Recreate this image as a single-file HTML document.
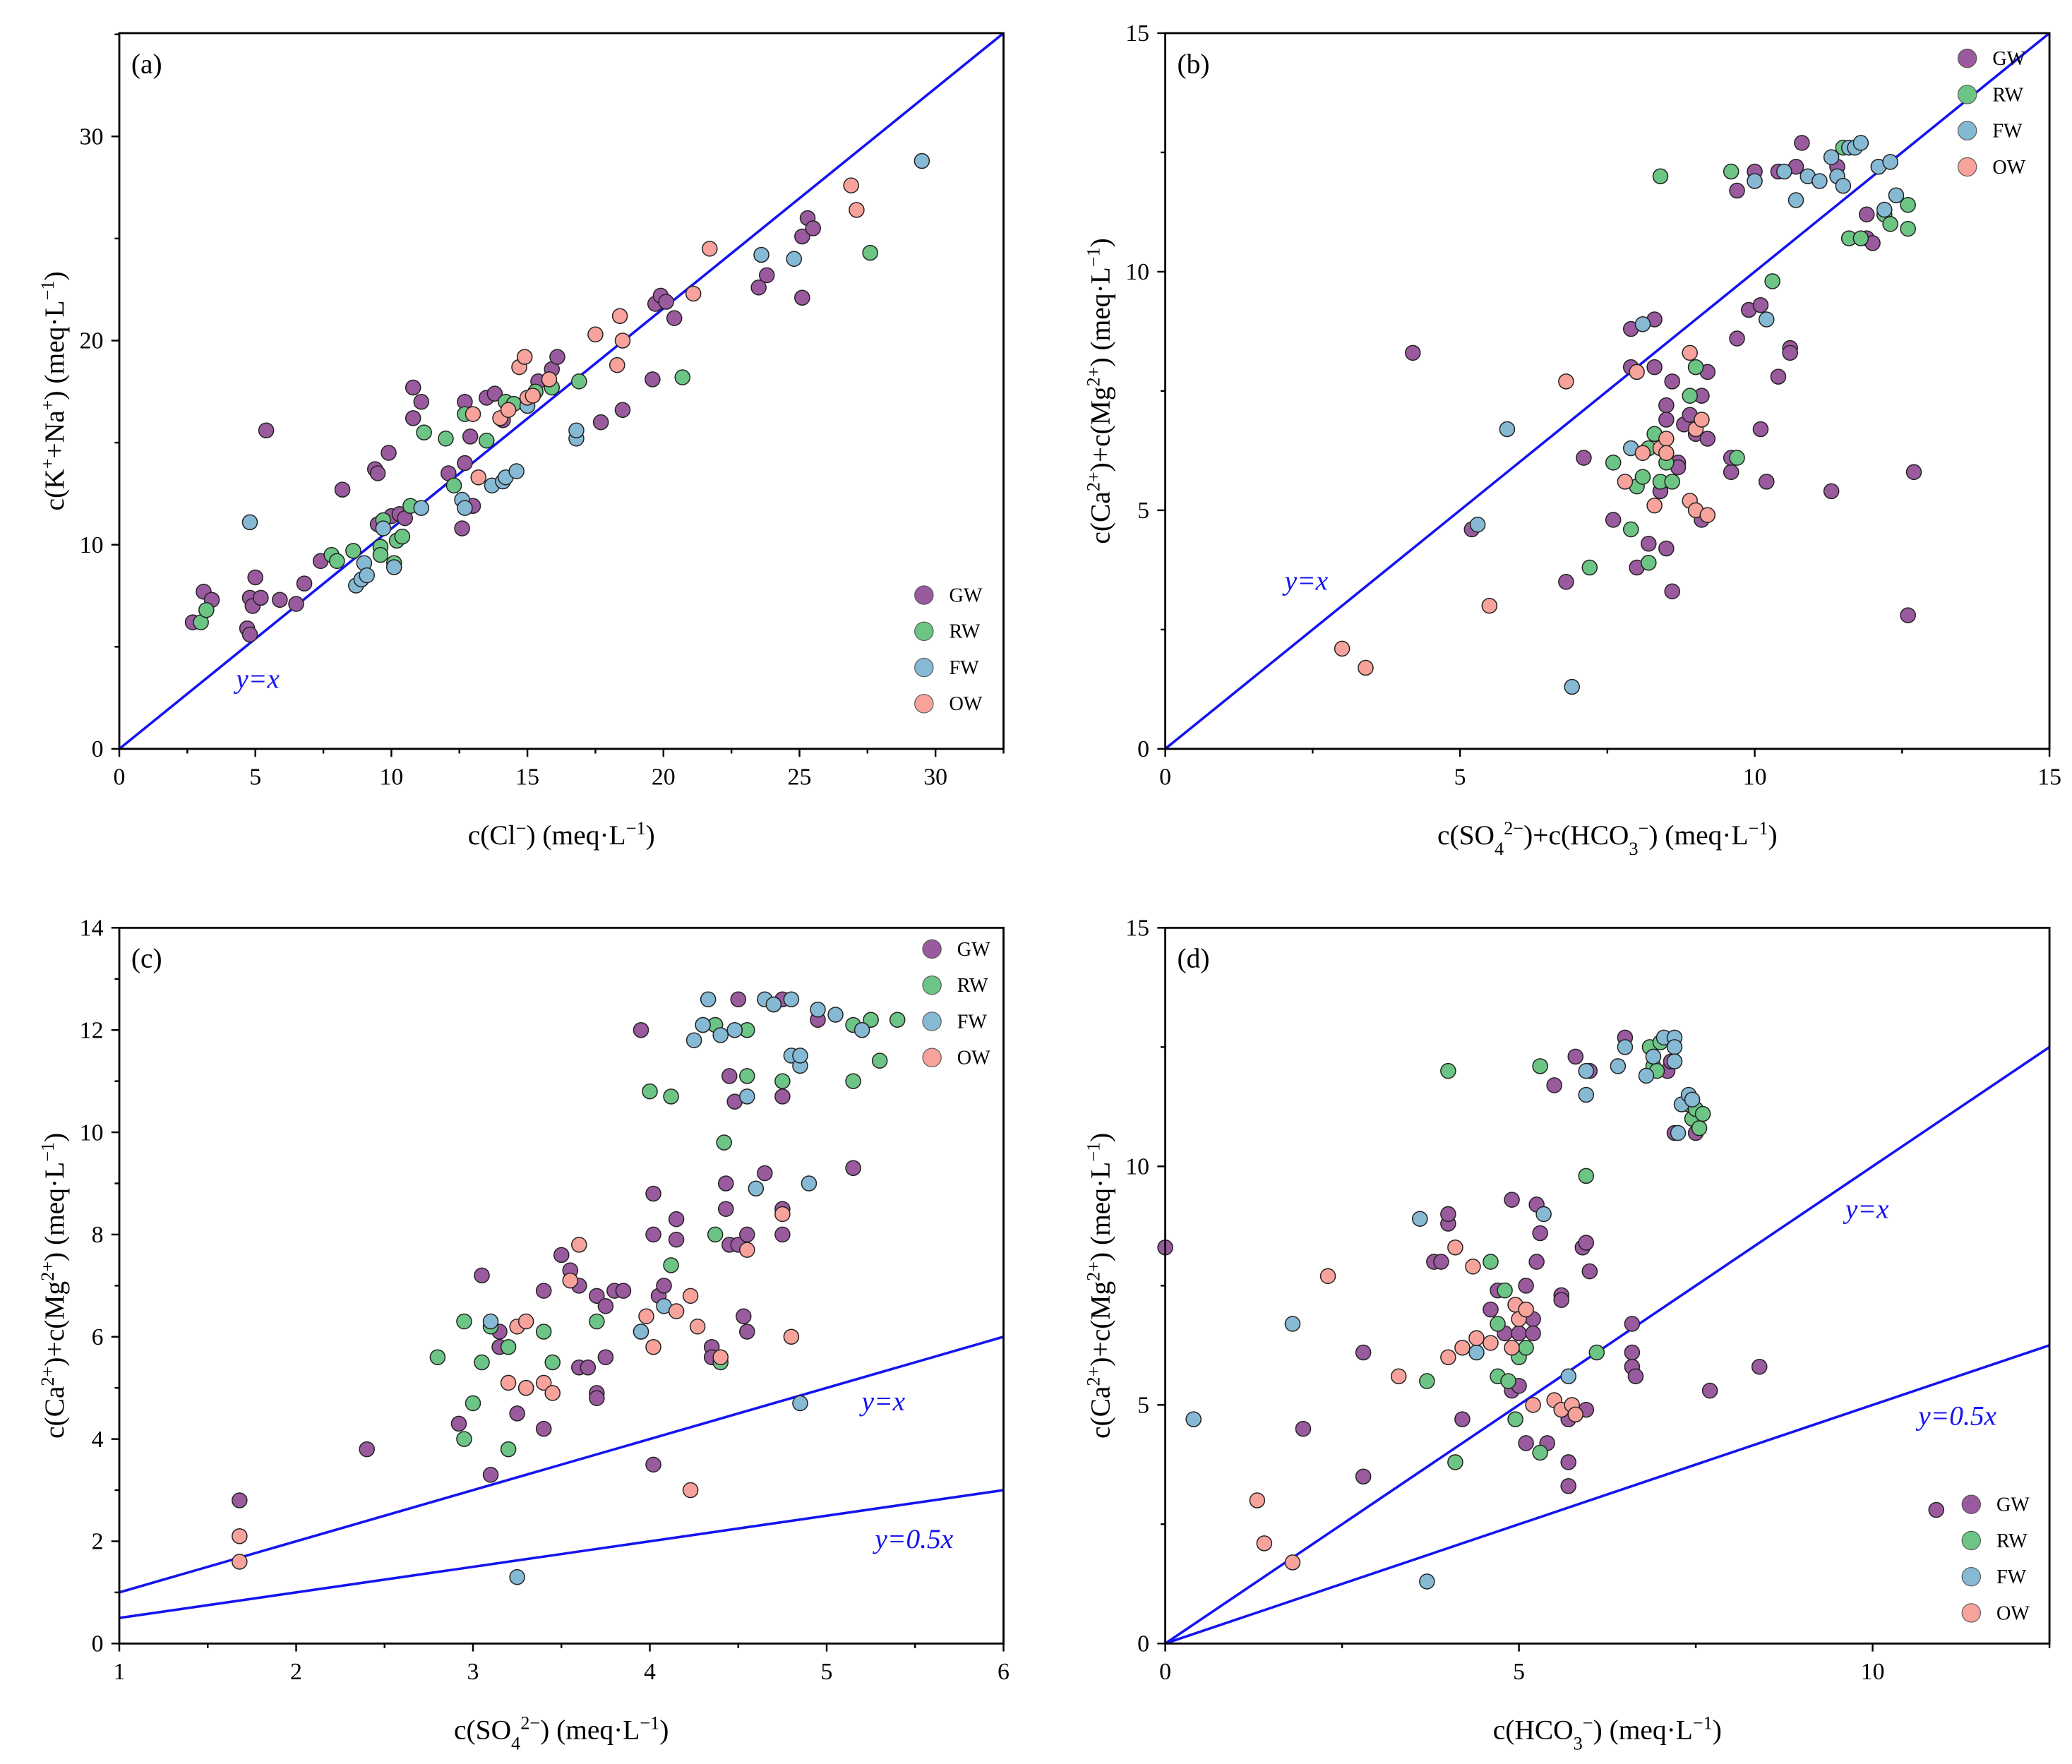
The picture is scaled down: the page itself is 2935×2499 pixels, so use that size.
<!DOCTYPE html>
<html><head><meta charset="utf-8"><style>
html,body{margin:0;padding:0;background:#fff;}
svg{display:block;}
text{font-family:"Liberation Serif",serif;fill:#000;}
</style></head><body>
<svg id="chart" width="2935" height="2499" viewBox="0 0 1563 1330.9" preserveAspectRatio="none" xmlns="http://www.w3.org/2000/svg"></svg>
<script>
// ---- Panel (a) data: c(Cl-) vs c(K+ + Na+) ----
const aGW=[[2.7,6.2],[3.1,7.7],[3.4,7.3],[4.7,5.9],[4.8,7.4],[4.8,5.6],[4.9,7.0],[5.0,8.4],[5.2,7.4],[5.4,15.6],[5.9,7.3],[6.5,7.1],[6.8,8.1],[7.4,9.2],[8.2,12.7],[9.4,13.7],[9.5,13.5],[9.9,14.5],[9.5,11.0],[10.0,11.4],[10.3,11.5],[10.5,11.3],[10.8,17.7],[10.8,16.2],[11.1,17.0],[12.1,13.5],[12.6,10.8],[12.7,14.0],[12.7,17.0],[12.9,15.3],[13.0,11.9],[13.5,17.2],[13.8,17.4],[14.1,16.1],[15.4,18.0],[15.9,18.6],[16.1,19.2],[17.7,16.0],[18.5,16.6],[19.6,18.1],[19.7,21.8],[19.9,22.2],[20.1,21.9],[20.4,21.1],[23.5,22.6],[23.8,23.2],[25.1,22.1],[25.1,25.1],[25.3,26.0],[25.5,25.5]];
const aRW=[[3.0,6.2],[3.2,6.8],[7.8,9.5],[8.0,9.2],[8.6,9.7],[9.6,9.9],[9.6,9.5],[9.7,11.2],[10.1,9.1],[10.2,10.2],[10.4,10.4],[10.7,11.9],[11.2,15.5],[12.0,15.2],[12.3,12.9],[12.7,16.4],[13.5,15.1],[14.2,17.0],[14.5,16.9],[15.3,17.5],[15.9,17.7],[16.9,18.0],[20.7,18.2],[27.6,24.3]];
const aFW=[[4.8,11.1],[8.7,8.0],[8.9,8.3],[9.0,9.1],[9.1,8.5],[9.7,10.8],[10.1,8.9],[11.1,11.8],[12.6,12.2],[12.7,11.8],[13.7,12.9],[14.1,13.1],[14.2,13.3],[14.6,13.6],[15.0,16.8],[16.8,15.2],[16.8,15.6],[23.6,24.2],[24.8,24.0],[29.5,28.8]];
const aOW=[[13.0,16.4],[13.2,13.3],[14.0,16.2],[14.3,16.6],[14.7,18.7],[14.9,19.2],[15.0,17.2],[15.2,17.3],[15.8,18.1],[17.5,20.3],[18.3,18.8],[18.4,21.2],[18.5,20.0],[21.1,22.3],[21.7,24.5],[26.9,27.6],[27.1,26.4]];
// ---- Panel (b) data ----
const bGW=[[4.2,8.3],[5.2,4.6],[6.8,3.5],[7.1,6.1],[7.6,4.8],[7.9,8.8],[7.9,8.0],[8.0,3.8],[8.2,4.3],[8.3,9.0],[8.3,8.0],[8.4,5.4],[8.5,7.2],[8.5,6.9],[8.5,4.2],[8.6,7.7],[8.6,3.3],[8.7,6.0],[8.7,5.9],[8.8,6.8],[8.9,7.0],[9.0,6.6],[9.1,7.4],[9.1,4.8],[9.2,7.9],[9.2,6.5],[9.6,5.8],[9.6,6.1],[9.7,8.6],[9.9,9.2],[10.1,9.3],[10.1,6.7],[10.2,5.6],[10.4,7.8],[10.6,8.4],[10.6,8.3],[9.7,11.7],[10.0,12.1],[10.4,12.1],[10.7,12.2],[10.8,12.7],[11.3,5.4],[11.4,12.2],[11.9,11.2],[11.9,10.7],[12.0,10.6],[12.6,2.8],[12.7,5.8]];
const bRW=[[7.2,3.8],[7.6,6.0],[7.9,4.6],[8.0,5.5],[8.1,5.7],[8.2,6.3],[8.2,3.9],[8.3,6.6],[8.4,5.6],[8.4,12.0],[8.5,6.0],[8.6,5.6],[8.9,7.4],[9.0,8.0],[9.6,12.1],[9.7,6.1],[10.3,9.8],[11.6,10.7],[11.8,10.7],[12.2,11.2],[12.3,11.0],[12.6,11.4],[12.6,10.9],[11.5,12.6],[12.1,12.2]];
const bFW=[[5.3,4.7],[5.8,6.7],[6.9,1.3],[7.9,6.3],[8.1,8.9],[10.0,11.9],[10.5,12.1],[10.7,11.5],[10.9,12.0],[11.1,11.9],[11.3,12.4],[11.4,12.0],[11.5,11.8],[11.6,12.6],[11.7,12.6],[11.8,12.7],[12.1,12.2],[12.2,11.3],[12.3,12.3],[12.4,11.6],[10.2,9.0]];
const bOW=[[3.0,2.1],[3.4,1.7],[5.5,3.0],[6.8,7.7],[7.8,5.6],[8.0,7.9],[8.1,6.2],[8.3,5.1],[8.4,6.3],[8.5,6.5],[8.9,8.3],[8.9,5.2],[9.0,6.7],[9.0,5.0],[9.1,6.9],[9.2,4.9],[8.5,6.2]];
// ---- Panel (c) data ----
const cGW=[[1.68,2.8],[2.4,3.8],[2.92,4.3],[3.05,7.2],[3.1,3.3],[3.15,5.8],[3.15,6.1],[3.25,4.5],[3.3,5.0],[3.4,6.9],[3.4,4.2],[3.5,7.6],[3.55,7.3],[3.6,7.0],[3.6,5.4],[3.65,5.4],[3.7,6.8],[3.7,4.9],[3.7,4.8],[3.75,5.6],[3.75,6.6],[3.8,6.9],[3.85,6.9],[3.95,12.0],[4.02,3.5],[4.02,8.8],[4.02,8.0],[4.05,6.8],[4.08,7.0],[4.15,8.3],[4.15,7.9],[4.3,12.1],[4.35,5.8],[4.35,5.6],[4.43,9.0],[4.43,8.5],[4.45,7.8],[4.45,11.1],[4.48,10.6],[4.5,12.6],[4.5,7.8],[4.53,6.4],[4.55,6.1],[4.55,8.0],[4.65,9.2],[4.75,8.5],[4.75,8.0],[4.75,10.7],[4.75,12.6],[4.95,12.2],[5.15,9.3]];
const cRW=[[2.8,5.6],[2.95,4.0],[2.95,6.3],[3.0,4.7],[3.05,5.5],[3.1,6.2],[3.2,3.8],[3.2,5.8],[3.4,6.1],[3.45,5.5],[3.7,6.3],[3.95,6.1],[4.0,10.8],[4.12,7.4],[4.12,10.7],[4.37,8.0],[4.37,12.1],[4.4,5.5],[4.42,9.8],[4.55,11.1],[4.55,12.0],[4.7,12.5],[4.75,11.0],[5.15,12.1],[5.15,11.0],[5.25,12.2],[5.3,11.4],[5.4,12.2]];
const cFW=[[3.1,6.3],[3.25,1.3],[3.95,6.1],[4.08,6.6],[4.25,11.8],[4.3,12.1],[4.33,12.6],[4.4,11.9],[4.48,12.0],[4.55,10.7],[4.6,8.9],[4.65,12.6],[4.7,12.5],[4.8,11.5],[4.8,12.6],[4.85,11.3],[4.85,11.5],[4.85,4.7],[4.9,9.0],[4.95,12.4],[5.05,12.3],[5.2,12.0]];
const cOW=[[1.68,2.1],[1.68,1.6],[3.2,5.1],[3.25,6.2],[3.3,6.3],[3.3,5.0],[3.4,5.1],[3.45,4.9],[3.55,7.1],[3.6,7.8],[3.98,6.4],[4.02,5.8],[4.15,6.5],[4.23,6.8],[4.23,3.0],[4.27,6.2],[4.4,5.6],[4.55,7.7],[4.75,8.4],[4.8,6.0]];
// ---- Panel (d) data ----
const dGW=[[0.0,8.3],[1.95,4.5],[2.8,6.1],[2.8,3.5],[3.8,8.0],[3.9,8.0],[4.0,8.8],[4.0,9.0],[4.2,4.7],[4.6,7.0],[4.7,7.4],[4.8,6.5],[4.9,9.3],[4.9,5.3],[5.0,6.5],[5.0,5.4],[5.1,4.2],[5.1,7.5],[5.2,6.8],[5.2,6.5],[5.25,8.0],[5.25,9.2],[5.3,8.6],[5.4,4.2],[5.6,7.3],[5.6,7.2],[5.7,3.3],[5.7,3.8],[5.7,4.7],[5.5,11.7],[5.8,12.3],[5.9,8.3],[5.95,8.4],[6.0,7.8],[6.0,12.0],[5.95,4.9],[6.5,12.7],[6.6,6.7],[6.6,6.1],[6.6,5.8],[6.65,5.6],[7.1,12.0],[7.15,12.2],[7.2,10.7],[7.5,10.7],[7.7,5.3],[8.4,5.8],[10.9,2.8]];
const dRW=[[3.7,5.5],[4.0,12.0],[4.1,3.8],[4.6,8.0],[4.7,6.7],[4.7,5.6],[4.8,7.4],[4.85,5.5],[4.95,4.7],[5.0,6.0],[5.1,6.2],[5.3,4.0],[5.3,12.1],[5.95,9.8],[6.1,6.1],[6.85,12.5],[6.9,12.1],[6.95,12.0],[7.0,12.6],[7.4,11.3],[7.45,11.0],[7.5,11.2],[7.55,10.8],[7.6,11.1]];
const dFW=[[0.4,4.7],[1.8,6.7],[3.6,8.9],[3.7,1.3],[4.4,6.1],[5.35,9.0],[5.7,5.6],[5.95,11.5],[6.4,12.1],[6.5,12.5],[6.8,11.9],[6.9,12.3],[7.05,12.7],[7.2,12.7],[7.2,12.5],[7.2,12.2],[7.3,11.3],[7.4,11.5],[7.45,11.4],[7.25,10.7],[5.95,12.0]];
const dOW=[[1.3,3.0],[1.4,2.1],[1.8,1.7],[2.3,7.7],[3.3,5.6],[4.0,6.0],[4.1,8.3],[4.2,6.2],[4.35,7.9],[4.4,6.4],[4.6,6.3],[4.9,6.2],[4.95,7.1],[5.0,6.8],[5.1,7.0],[5.2,5.0],[5.5,5.1],[5.6,4.9],[5.75,5.0],[5.8,4.8]];
const groupNames=["GW","RW","FW","OW"];
const aXTicks=[0,5,10,15,20,25,30], aYTicks=[0,10,20,30];
const bXTicks=[0,5,10,15], bYTicks=[0,5,10,15];
const cXTicks=[1,2,3,4,5,6], cYTicks=[0,2,4,6,8,10,12,14];
const dXTicks=[0,5,10], dYTicks=[0,5,10,15];
const bRefSlopes=[1];
const cRefSlopes=[1,0.5], dRefSlopes=[1,0.5];

const colors={GW:"#9a5a9e",RW:"#6cc584",FW:"#86b9d4",OW:"#f7a29b"};
const svg=document.getElementById('chart');
const NS="http://www.w3.org/2000/svg";
function mk(tag,attrs,parent){const e=document.createElementNS(NS,tag);for(const k in attrs)e.setAttribute(k,attrs[k]);(parent||svg).appendChild(e);return e;}

function panel(o){
  const g=mk('g',{});
  
  
  const sx=v=>o.x0+(v-o.xmin)/(o.xmax-o.xmin)*(o.x1-o.x0);
  const sy=v=>o.y0-(v-o.ymin)/(o.ymax-o.ymin)*(o.y0-o.y1);
  const cid='clip-'+o.id;
  const cp=mk('clipPath',{id:cid},g);mk('rect',{x:o.x0,y:o.y1,width:o.x1-o.x0,height:o.y0-o.y1},cp);
  o.lines.forEach(L=>{
    const ln=mk('line',{x1:sx(o.xmin),y1:sy(L.f(o.xmin)),x2:sx(o.xmax),y2:sy(L.f(o.xmax)),stroke:'#1414f0','stroke-width':1.9,'clip-path':'url(#'+cid+')'},g);
    
    
    const t=mk('text',{x:L.lx,y:L.ly,'font-size':21,'font-style':'italic',fill:'#1414f0'},g);
    t.style.fill='#1414f0';t.textContent=L.label;
    
    
  });
  o.series.forEach((arr,i)=>{
    const name=groupNames[i];
    const sg=mk('g',{},g);
    
    
    arr.forEach(p=>{
      const c=mk('circle',{cx:sx(p[0]),cy:sy(p[1]),r:5.6,fill:colors[name],stroke:'#222','stroke-width':0.8},sg);
      
      
    });
  });
  const fr=mk('rect',{x:o.x0,y:o.y1,width:o.x1-o.x0,height:o.y0-o.y1,fill:'none',stroke:'#000','stroke-width':1.5},g);
  
  
  const xt=o.xt, yt=o.yt;
  const xs=xt[1]-xt[0], ys=yt[1]-yt[0];
  for(let v=o.xmin;v<=o.xmax+1e-9;v+=xs/2){
    const major=xt.some(t=>Math.abs(t-v)<1e-6);
    mk('line',{x1:sx(v),y1:o.y0,x2:sx(v),y2:o.y0+(major?6:3.5),stroke:'#000','stroke-width':1.3},g);
  }
  for(let v=o.ymin;v<=o.ymax+1e-9;v+=ys/2){
    const major=yt.some(t=>Math.abs(t-v)<1e-6);
    mk('line',{x1:o.x0,y1:sy(v),x2:o.x0-(major?6:3.5),y2:sy(v),stroke:'#000','stroke-width':1.3},g);
  }
  xt.forEach(v=>{const t=mk('text',{x:sx(v),y:o.y0+27,'font-size':18,'text-anchor':'middle'},g);t.textContent=v;
    });
  yt.forEach(v=>{const t=mk('text',{x:o.x0-12,y:sy(v)+6,'font-size':18,'text-anchor':'end'},g);t.textContent=v;
    });
  const pl=mk('text',{x:o.x0+9,y:o.y1+30,'font-size':21},g);pl.textContent='('+o.id+')';
  
  const xtit=mk('text',{x:(o.x0+o.x1)/2,y:o.y0+72,'font-size':21,'text-anchor':'middle'},g);xtit.innerHTML=o.xTitle;
  
  const cy=(o.y0+o.y1)/2;
  const ytit=mk('text',{x:o.x0-42,y:cy,'font-size':21,'text-anchor':'middle',transform:'rotate(-90 '+(o.x0-42)+' '+cy+')'},g);ytit.innerHTML=o.yTitle;
  
  const lg=mk('g',{},g);
  
  groupNames.forEach((n,i)=>{
    const y=o.legY+i*27.3;
    const c=mk('circle',{cx:o.legX,cy:y,r:7,fill:colors[n],stroke:'#555','stroke-width':0.6},lg);
    
    const t=mk('text',{x:o.legX+19,y:y+5,'font-size':15},lg);t.textContent=n;
    
  });
}
const sup=(s)=>'<tspan baseline-shift="super" font-size="14">'+s+'</tspan>';
const sub=(s)=>'<tspan baseline-shift="sub" font-size="14">'+s+'</tspan>';
const unit='(meq·L'+sup('−1')+')';
const caMg='c(Ca'+sup('2+')+')+c(Mg'+sup('2+')+') '+unit;

panel({id:'a',x0:90,x1:757,y0:565,y1:25,xmin:0,xmax:32.5,ymin:0,ymax:35.06,xt:aXTicks,yt:aYTicks,
  series:[aGW,aRW,aFW,aOW],lines:[{name:'y-equals-x',f:x=>x*35.06/32.5,label:'y=x',lx:178,ly:519}],
  xTitle:'c(Cl'+sup('−')+') '+unit,yTitle:'c(K'+sup('+')+'+Na'+sup('+')+') '+unit,legX:697,legY:449});
panel({id:'b',x0:879,x1:1546,y0:565,y1:25,xmin:0,xmax:15,ymin:0,ymax:15,xt:bXTicks,yt:bYTicks,
  series:[bGW,bRW,bFW,bOW],lines:[{name:'y-equals-x',f:x=>x*bRefSlopes[0],label:'y=x',lx:969,ly:445}],
  xTitle:'c(SO'+sub('4')+sup('2−')+')+c(HCO'+sub('3')+sup('−')+') '+unit,yTitle:caMg,legX:1484,legY:44});
panel({id:'c',x0:90,x1:757,y0:1240,y1:700,xmin:1,xmax:6,ymin:0,ymax:14,xt:cXTicks,yt:cYTicks,
  series:[cGW,cRW,cFW,cOW],lines:[{name:'y-equals-x',f:x=>x*cRefSlopes[0],label:'y=x',lx:650,ly:1064},
  {name:'y-equals-half-x',f:x=>x*cRefSlopes[1],label:'y=0.5x',lx:660,ly:1168}],
  xTitle:'c(SO'+sub('4')+sup('2−')+') '+unit,yTitle:caMg,legX:703,legY:716});
panel({id:'d',x0:879,x1:1546,y0:1240,y1:700,xmin:0,xmax:12.5,ymin:0,ymax:15,xt:dXTicks,yt:dYTicks,
  series:[dGW,dRW,dFW,dOW],lines:[{name:'y-equals-x',f:x=>x*dRefSlopes[0],label:'y=x',lx:1392,ly:919},
  {name:'y-equals-half-x',f:x=>x*dRefSlopes[1],label:'y=0.5x',lx:1447,ly:1075}],
  xTitle:'c(HCO'+sub('3')+sup('−')+') '+unit,yTitle:caMg,legX:1487,legY:1135});
</script>
</body></html>
